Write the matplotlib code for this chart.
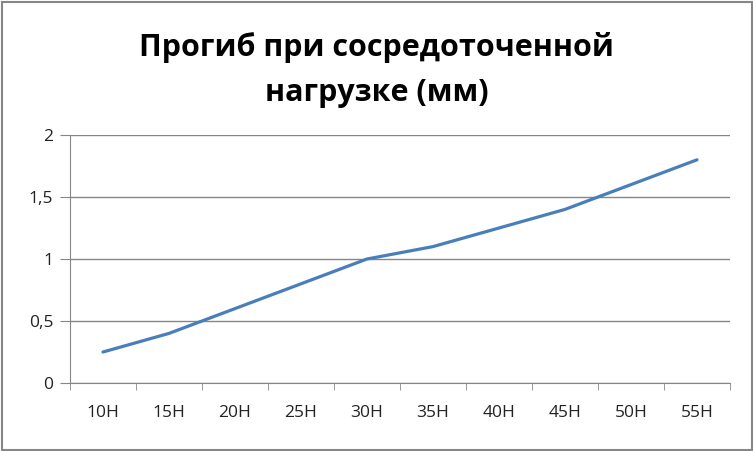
import matplotlib
matplotlib.use("Agg")
import matplotlib.pyplot as plt
from matplotlib.patches import Rectangle

# данные с графика
categories = ["10Н", "15Н", "20Н", "25Н", "30Н", "35Н", "40Н", "45Н", "50Н", "55Н"]
deflection = [0.25, 0.4, 0.6, 0.8, 1.0, 1.1, 1.25, 1.4, 1.6, 1.8]
y_ticks = [0, 0.5, 1, 1.5, 2]
y_labels = ["0", "0,5", "1", "1,5", "2"]
title = "Прогиб при сосредоточенной\nнагрузке (мм)"

W, H = 753, 451
fig = plt.figure(figsize=(W / 100, H / 100), dpi=100)
ax = fig.add_axes([70 / W, 1 - 383 / H, 660 / W, 248 / H])

x = list(range(len(categories)))
ax.plot(x, deflection, color="#4A7EBB", linewidth=2.3, solid_capstyle="round")

ax.set_xlim(-0.5, len(categories) - 0.5)
ax.set_ylim(0, 2)
ax.set_yticks(y_ticks)
ax.set_yticklabels(y_labels)
ax.set_xticks(x)
ax.set_xticklabels(categories)
ax.set_xticks([i - 0.5 for i in range(len(categories) + 1)], minor=True)

ax.grid(axis="y", color="#868686", linewidth=1.0)
ax.set_axisbelow(True)
for side in ["top", "right"]:
    ax.spines[side].set_visible(False)
ax.spines["left"].set_color("#868686")
ax.spines["bottom"].set_color("#868686")
ax.tick_params(axis="y", length=7, color="#868686", pad=5, labelsize=12.5,
               labelcolor="#222222")
ax.tick_params(axis="x", which="major", length=0, pad=16, labelsize=12.5,
               labelcolor="#222222")
ax.tick_params(axis="x", which="minor", length=5, color="#868686")
for lbl in ax.get_xticklabels() + ax.get_yticklabels():
    lbl.set_family(["Open Sans", "DejaVu Sans"])

fig.text(0.5, 1 - 70 / H, title, ha="center", va="center", fontsize=22,
         fontweight="bold", family=["Open Sans", "DejaVu Sans"],
         linespacing=1.65)

# рамка вокруг диаграммы
fig.patches.append(Rectangle((1.5 / W, 1.5 / H), 1 - 3 / W, 1 - 3 / H,
                             transform=fig.transFigure, fill=False,
                             edgecolor="#868686", linewidth=1.5))

fig.savefig("out.png", dpi=100)
